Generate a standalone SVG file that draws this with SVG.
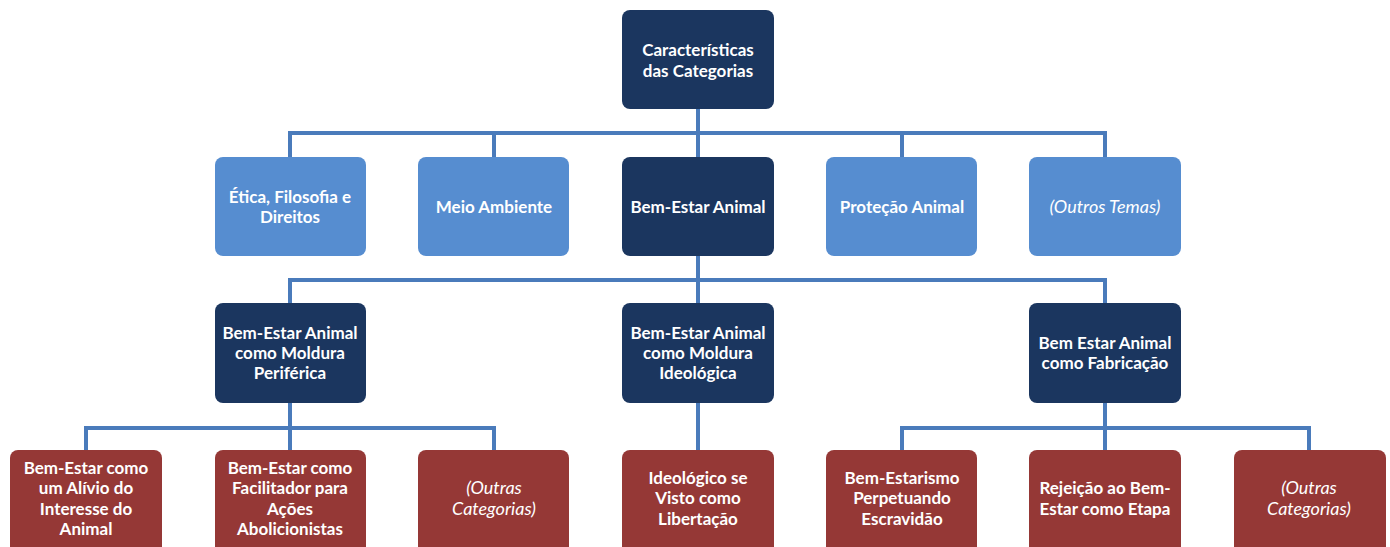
<svg xmlns="http://www.w3.org/2000/svg" width="1390" height="547" viewBox="0 0 1390 547">
<style>
.dk{fill:#1b365f}
.lt{fill:#568dd0}
.rd{fill:#953836}
text{font-family:Lato,"Liberation Sans",sans-serif;font-weight:bold;font-size:17px;fill:#ffffff;text-anchor:middle;dominant-baseline:central}
.it{font-style:italic;font-weight:normal;font-size:18px}
.cn{fill:none;stroke:#4a7bbb;stroke-width:4;stroke-linecap:butt}
</style>
<rect width="1390" height="547" fill="#ffffff"/>
<g id="connectors" class="cn">
<path d="M698 109V133M290 133H1105M290 131V157M494 133V157M698 133V157M902 133V157M1105 131V157"/>
<path d="M698 256V280M290 280H1105M290 278V303M698 280V303M1105 278V303"/>
<path d="M290 403V428M86 428H494M86 426V450M290 428V450M494 426V450"/>
<path d="M698 403V450"/>
<path d="M1105 403V428M902 428H1309M902 426V450M1105 428V450M1309 426V450"/>
</g>
<g id="n-top"><rect class="dk" x="622" y="10" width="152" height="99" rx="8"/><text x="698" y="49">Características</text><text x="698" y="70">das Categorias</text></g>
<g id="n-etica"><rect class="lt" x="215" y="157" width="151" height="99" rx="8"/><text x="290" y="196">Ética, Filosofia e</text><text x="290" y="216">Direitos</text></g>
<g id="n-meio"><rect class="lt" x="418" y="157" width="151" height="99" rx="8"/><text x="494" y="206">Meio Ambiente</text></g>
<g id="n-bem"><rect class="dk" x="622" y="157" width="152" height="99" rx="8"/><text x="698" y="206">Bem-Estar Animal</text></g>
<g id="n-prot"><rect class="lt" x="826" y="157" width="151" height="99" rx="8"/><text x="902" y="206">Proteção Animal</text></g>
<g id="n-outros"><rect class="lt" x="1029" y="157" width="152" height="99" rx="8"/><text class="it" x="1105" y="206">(Outros Temas)</text></g>
<g id="n-perif"><rect class="dk" x="215" y="303" width="151" height="100" rx="8"/><text x="290" y="332">Bem-Estar Animal</text><text x="290" y="352">como Moldura</text><text x="290" y="372">Periférica</text></g>
<g id="n-ideol"><rect class="dk" x="622" y="303" width="152" height="100" rx="8"/><text x="698" y="332">Bem-Estar Animal</text><text x="698" y="352">como Moldura</text><text x="698" y="372">Ideológica</text></g>
<g id="n-fabr"><rect class="dk" x="1029" y="303" width="152" height="100" rx="8"/><text x="1105" y="342">Bem Estar Animal</text><text x="1105" y="362">como Fabricação</text></g>
<g id="n-alivio"><rect class="rd" x="10" y="450" width="152" height="105" rx="8"/><text x="86" y="467">Bem-Estar como</text><text x="86" y="487">um Alívio do</text><text x="86" y="508">Interesse do</text><text x="86" y="528">Animal</text></g>
<g id="n-facil"><rect class="rd" x="215" y="450" width="151" height="105" rx="8"/><text x="290" y="467">Bem-Estar como</text><text x="290" y="487">Facilitador para</text><text x="290" y="508">Ações</text><text x="290" y="528">Abolicionistas</text></g>
<g id="n-outras1"><rect class="rd" x="418" y="450" width="151" height="105" rx="8"/><text class="it" x="494" y="487">(Outras</text><text class="it" x="494" y="508">Categorias)</text></g>
<g id="n-liber"><rect class="rd" x="622" y="450" width="152" height="105" rx="8"/><text x="698" y="477">Ideológico se</text><text x="698" y="497">Visto como</text><text x="698" y="518">Libertação</text></g>
<g id="n-escrav"><rect class="rd" x="826" y="450" width="151" height="105" rx="8"/><text x="902" y="477">Bem-Estarismo</text><text x="902" y="497">Perpetuando</text><text x="902" y="518">Escravidão</text></g>
<g id="n-rejei"><rect class="rd" x="1029" y="450" width="152" height="105" rx="8"/><text x="1105" y="487">Rejeição ao Bem-</text><text x="1105" y="508">Estar como Etapa</text></g>
<g id="n-outras2"><rect class="rd" x="1234" y="450" width="152" height="105" rx="8"/><text class="it" x="1309" y="487">(Outras</text><text class="it" x="1309" y="508">Categorias)</text></g>
</svg>
